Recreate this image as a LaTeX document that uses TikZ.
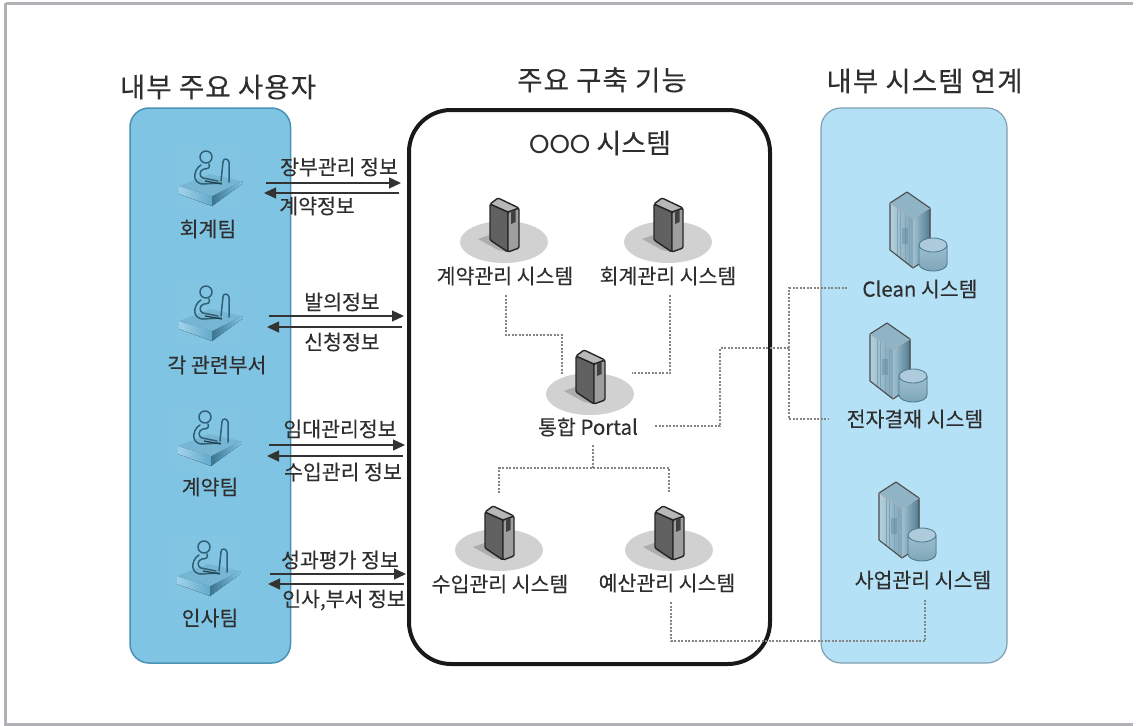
\documentclass[tikz,border=0pt]{standalone}
\usepackage{fontspec}
\setmainfont[FakeBold=0.25]{Noto Sans CJK KR}
\newfontfamily\ooofont{Poppins}
\usetikzlibrary{arrows.meta}
\definecolor{txt}{HTML}{2E2E2E}
\definecolor{leftfill}{HTML}{80C4E3}
\definecolor{leftedge}{HTML}{4A93B5}
\definecolor{rightfill}{HTML}{B5E1F7}
\definecolor{rightedge}{HTML}{7F9FB0}
\definecolor{framec}{HTML}{B2B2B6}
\definecolor{dotc}{HTML}{858585}
\definecolor{clA}{HTML}{B4D0DD}
\definecolor{clB}{HTML}{7EA5B7}
\definecolor{clC}{HTML}{9CC1D2}
\definecolor{clD}{HTML}{537C90}
\definecolor{clT}{HTML}{8FB4C5}
\tikzset{
  lbl/.style={font=\fontsize{20.5}{22}\selectfont,text=txt,inner sep=0pt},
  flow/.style={font=\fontsize{20.5}{22}\selectfont,text=txt,inner sep=0pt},
  heading/.style={font=\fontsize{27.5}{30}\selectfont\addfontfeature{LetterSpace=4},text=txt,inner sep=0pt},
  dotline/.style={draw=dotc,line width=1.5pt,dash pattern=on 2pt off 1.5pt},
  flowarrow/.style={draw=black!80,line width=1.3pt,-{Triangle[length=12pt,width=11pt]}},
  person/.pic={
    \fill[white,opacity=.025] (-34,-11) rectangle (38,54);
    \fill[left color=leftfill!75!white,right color=leftedge!55!leftfill] (-27,29) -- (6,39) -- (6,49) -- (-27,37) -- cycle;
    \fill[left color=leftedge!80!black,right color=leftfill] (6,39) -- (36,24) -- (36,27) -- (6,49) -- cycle;
    \fill[leftfill!93!black] (-27,29) -- (4,17) -- (36,24) -- (6,39) -- cycle;
    \draw[draw=black!35!leftedge,line width=1.5pt,line cap=round,line join=round]
      (0,0) circle (6)
      (-5,8) .. controls (-9,10) and (-12,16) .. (-11,21) .. controls (-10,26) and (-5,27) .. (-3,27) -- (15,26)
      (3,7) .. controls (5,11) and (1,12) .. (-2,12) .. controls (-7,13) and (-7,20) .. (-3,21) -- (12,24)
      (15,24) -- (17,5) .. controls (17,1) and (22,1) .. (23,5) -- (23,25);
    \draw[draw=black!55!leftedge,line width=1.3pt] (-1,24) -- (16,27);
  },
  tower/.pic={
    \fill[black!18] (0,0) ellipse (44 and 21);
    \fill[black!32] (-26,-3) -- (-12,-8) -- (4,10) -- (-6,8) -- cycle;
    \begin{scope}[line join=round,rounded corners=1.2pt]
    \draw[black!85,line width=1.4pt,fill=black!62] (-14,-38) -- (4,-30) -- (4,10) -- (-14,-2) -- cycle;
    \draw[black!85,line width=1.4pt,fill=black!38] (4,-30) -- (15,-34) -- (15,6) -- (4,10) -- cycle;
    \draw[black!85,line width=1.4pt,fill=black!28] (-14,-38) -- (-6,-44) -- (15,-34) -- (4,-30) -- cycle;
    \end{scope}
    \fill[black!75] (7,-30) -- (11.5,-32) -- (11.5,-20) -- (7,-18) -- cycle;
  },
  cluster/.pic={
    \fill[left color=clA,right color=clB] (-17,11) -- (6,27) -- (6,76) -- (-17,58) -- cycle;
    \draw[clB,line width=.8pt] (-10,16) -- (-10,63) (-7,18) -- (-7,66) (-2,22) -- (-2,70) (2,25) -- (2,72);
    \fill[clD,opacity=.35] (-5,36) rectangle (1,52);
    \fill[left color=clC,right color=clD] (6,27) -- (23,16) -- (23,65) -- (6,76) -- cycle;
    \fill[clT] (-17,11) -- (0,0) -- (23,16) -- (6,27) -- cycle;
    \draw[black!70,line width=1.1pt,line join=round] (-17,11) -- (0,0) -- (23,16) -- (23,65) -- (6,76) -- (-17,58) -- cycle;
    \draw[black!30,line width=.5pt] (-17,11) -- (6,27) -- (23,16) (6,27) -- (6,76);
    \fill[top color=clC,bottom color=clB] (12,53) -- (12,72) arc[start angle=180,end angle=0,x radius=14,y radius=7] -- (40,53) -- cycle;
    \fill[clA!70!clC] (26,53) ellipse (14 and 7);
    \draw[clD,line width=.9pt] (26,53) ellipse (14 and 7) (12,53) -- (12,72) arc[start angle=180,end angle=0,x radius=14,y radius=7] -- (40,53);
  }
}
\begin{document}
\begin{tikzpicture}[x=1pt,y=-1pt]
\useasboundingbox (0,0) rectangle (1136,726);
\fill[white] (0,0) rectangle (1136,726);
\draw[framec,line width=3pt] (5.5,3) -- (1133,3) (5.5,3) -- (5.5,724.5) -- (1133,724.5);

% panels
\draw[leftedge,fill=leftfill,line width=1.5pt,rounded corners=19pt] (130,108) rectangle (290.5,663);
\draw[rightedge,fill=rightfill,line width=1.2pt,rounded corners=20pt] (821,108) rectangle (1007,663);
\draw[black!90,line width=4pt,rounded corners=42pt] (409,110) rectangle (770,664);

% headings
\node[heading] (t1) at (218,87) {내부 주요 사용자};
\node[heading] (t2) at (602,80) {주요 구축 기능};
\node[heading] (t3) at (924.5,81) {내부 시스템 연계};
\node[text=txt,inner sep=0pt,font=\fontsize{27}{28}\selectfont] (t4) at (600,143) {{\ooofont\fontsize{26}{26}\selectfont OOO} 시스템};

% people
\pic (p1) at (206,157) {person};
\pic (p2) at (206,292) {person};
\pic (p3) at (205,417) {person};
\pic (p4) at (204,547) {person};
\node[lbl] (u1) at (208,229) {회계팀};
\node[lbl] (u2) at (217,365) {각 관련부서};
\node[lbl] (u3) at (210,487) {계약팀};
\node[lbl] (u4) at (210,618) {인사팀};

% flow arrows
\foreach \n/\xa/\ya/\xb/\yb/\xc/\yc/\xd/\yd in {
  1/266/183/401/183/399/193/264/193,
  2/269/316/404/316/402/327/267/327,
  3/269/445/405/445/403/456/267/456,
  4/270/574/406/574/404/584/268/584}{
  \coordinate (fa\n) at (\xa,\ya);
  \coordinate (fb\n) at (\xb,\yb);
  \coordinate (ra\n) at (\xc,\yc);
  \coordinate (rb\n) at (\xd,\yd);
  \draw[flowarrow] (fa\n) -- (fb\n);
  \draw[flowarrow] (ra\n) -- (rb\n);
}
\node[flow] (f1) at (339,167) {장부관리 정보};
\node[flow] (r1) at (317,206) {계약정보};
\node[flow] (f2) at (342,302) {발의정보};
\node[flow] (r2) at (342,342) {신청정보};
\node[flow] (f3) at (340,429) {임대관리정보};
\node[flow] (r3) at (343,472) {수입관리 정보};
\node[flow] (f4) at (340,560) {성과평가 정보};
\node[flow] (r4) at (344,600) {인사,부서 정보};

% servers
\pic (s1) at (504,242) {tower};
\pic (s2) at (668,242) {tower};
\pic (s3) at (590,394) {tower};
\pic (s4) at (499,550) {tower};
\pic (s5) at (669,550) {tower};
\node[lbl] (n1) at (505,276) {계약관리 시스템};
\node[lbl] (n2) at (668,276) {회계관리 시스템};
\node[lbl] (n3) at (588,427) {통합 Portal};
\node[lbl] (n4) at (500,584) {수입관리 시스템};
\node[lbl] (n5) at (667,583) {예산관리 시스템};

\pic (c1) at (907,192) {cluster};
\pic (c2) at (887,323) {cluster};
\pic (c3) at (896,482) {cluster};
\node[lbl] (m1) at (920,289) {Clean 시스템};
\node[lbl] (m2) at (915,419) {전자결재 시스템};
\node[lbl] (m3) at (923,580) {사업관리 시스템};

% dotted connectors
\coordinate (d1a) at (506,295); \coordinate (d1b) at (562,335); \coordinate (d1c) at (562,375);
\draw[dotline] (d1a) -- (d1a |- d1b) -- (d1b) -- (d1c);
\coordinate (d2a) at (670,295); \coordinate (d2b) at (632,373);
\draw[dotline] (d2a) -- (d2a |- d2b) -- (d2b);
\coordinate (d3a) at (655,426); \coordinate (d3b) at (720,348); \coordinate (d3j) at (789,348);
\draw[dotline] (d3a) -- (d3b |- d3a) -- (d3b) -- (d3j);
\coordinate (d3c) at (847,288); \coordinate (d3d) at (828,419);
\draw[dotline] (d3c) -- (d3j |- d3c) -- (d3j |- d3d) -- (d3d);
\coordinate (d4a) at (593,445); \coordinate (d4j) at (593,468); \coordinate (d4l) at (499,493); \coordinate (d4r) at (669,493);
\draw[dotline] (d4a) -- (d4j);
\draw[dotline] (d4l) -- (d4l |- d4j) -- (d4r |- d4j) -- (d4r);
\coordinate (d5a) at (671,602); \coordinate (d5b) at (925,598); \coordinate (d5y) at (700,641);
\draw[dotline] (d5a) -- (d5a |- d5y) -- (d5b |- d5y) -- (d5b);
\end{tikzpicture}
\end{document}
